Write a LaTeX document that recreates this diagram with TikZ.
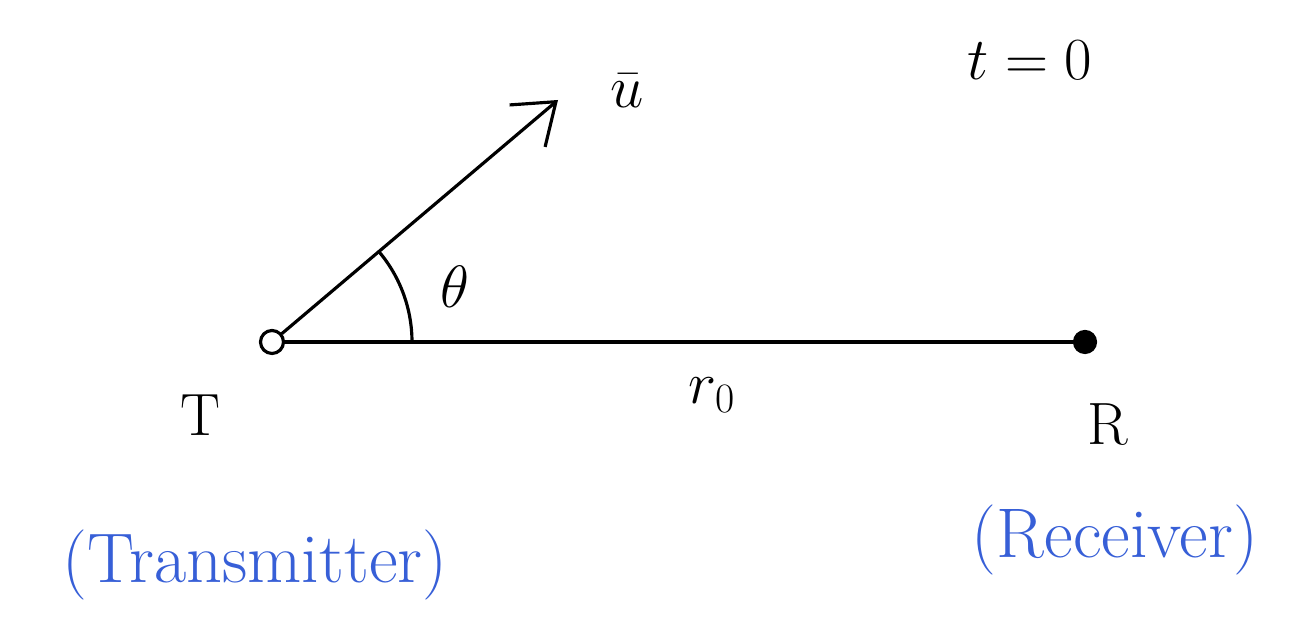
\documentclass[tikz,border=0pt]{standalone}
\usepackage{fix-cm}
\usepackage{amsmath}
\usetikzlibrary{arrows.meta,positioning,calc}
\definecolor{penblue}{RGB}{55,95,215}
\begin{document}
\begin{tikzpicture}[
        x=0.02cm, y=0.02cm,
        pen/.style={line width=1.8pt, line cap=round},
        lbl/.style={font=\fontsize{34}{40}\selectfont},
        note/.style={text=penblue, font=\fontsize{40}{46}\selectfont}
    ]
    \useasboundingbox (0,0) rectangle (1289,621);
    % transmitter and receiver
    \node[circle, draw, pen, minimum size=0.46cm, inner sep=0pt] (tx) at (272,279) {};
    \node[circle, draw, pen, fill=black, minimum size=0.42cm, inner sep=0pt] (rx) at (1085,279) {};
    \coordinate (uend) at (558,521);

    \draw[pen] (tx) -- (rx);
    \draw[pen, -{Straight Barb[length=0.75cm, width=1.1cm, line width=1.8pt]}] (tx) -- (uend);
    \draw[pen] ($(tx.center)+(140,0)$) arc[start angle=0, end angle=40.2, radius=2.8cm];

    \node[lbl] (theta) at (455,334) {$\theta$};
    \node[lbl] (ubar) at (627,530) {$\bar{u}$};
    \node[lbl] (time) at (1030,561) {$t=0$};
    \node[lbl] (tlab) at (200,206) {T};
    \node[lbl] (rzero) at (712,226) {$r_0$};
    \node[lbl] (rlab) at (1108,196) {R};

    \node[note] (trans) at (255,56) {(Transmitter)};
    \node[note] (recv) at (1115,81) {(Receiver)};
\end{tikzpicture}
\end{document}
